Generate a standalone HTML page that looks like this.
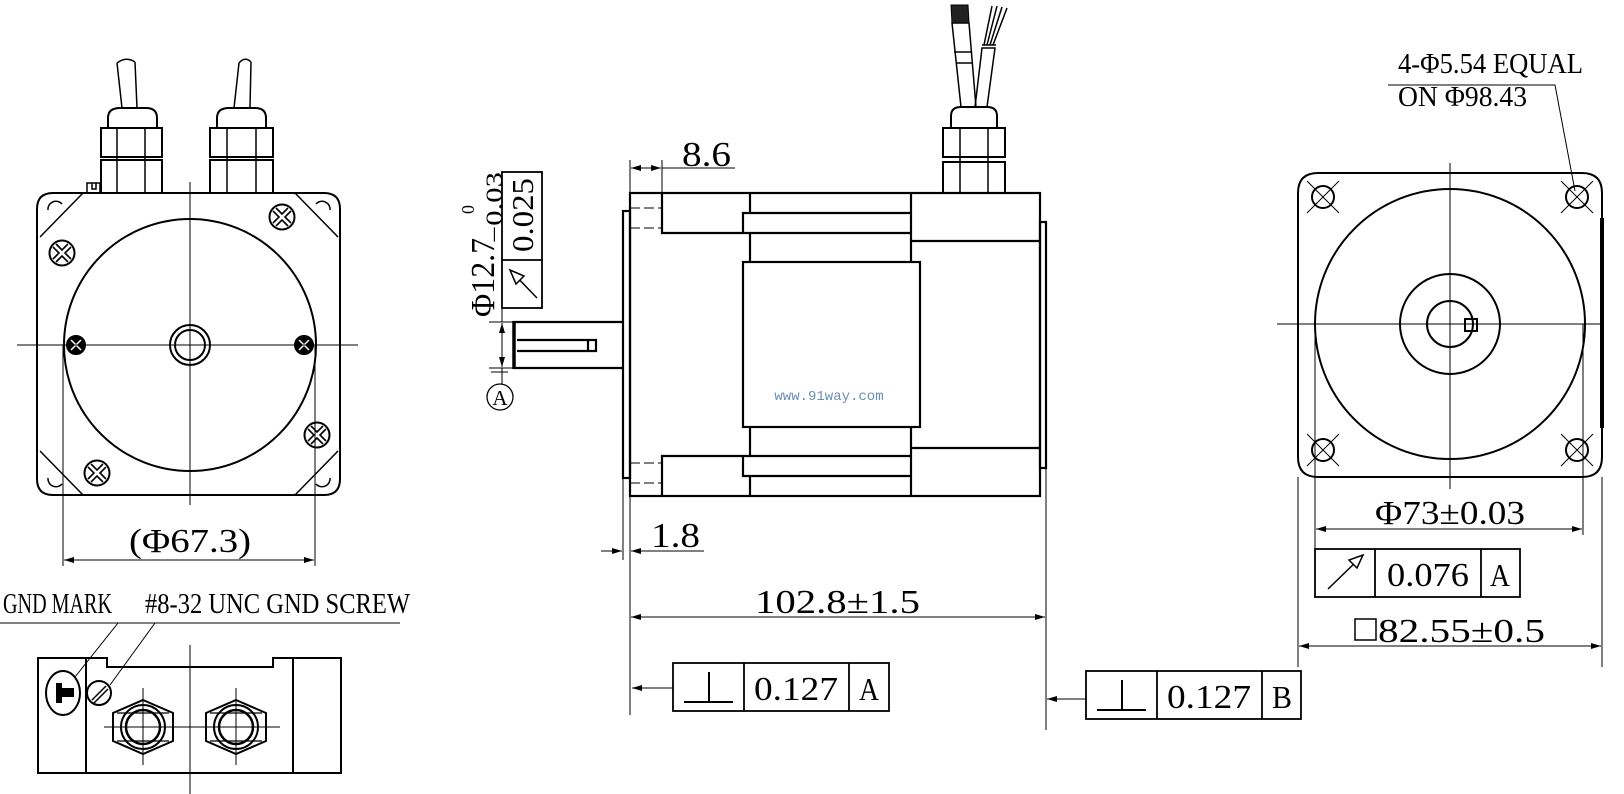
<!DOCTYPE html>
<html><head><meta charset="utf-8"><style>html,body{margin:0;padding:0;background:#fff}svg{display:block}</style></head>
<body>
<svg width="1624" height="794" viewBox="0 0 1624 794" xmlns="http://www.w3.org/2000/svg" font-family="'Liberation Serif', serif" fill="none" stroke="#000">
<defs>
<marker id="ar" viewBox="0 0 10 6" refX="10" refY="3" markerWidth="10" markerHeight="6" markerUnits="userSpaceOnUse" orient="auto-start-reverse"><path d="M0,0 L10,3 L0,6 z" fill="#000" stroke="none"/></marker>
<g id="xs"><circle r="12.5" stroke-width="2"/><path d="M-6,-9 L0,-3 L6,-9 M-6,9 L0,3 L6,9 M-9,-6 L-3,0 L-9,6 M9,-6 L3,0 L9,6" stroke-width="1.6"/></g>
</defs>
<rect x="0" y="0" width="1624" height="794" fill="#fff" stroke="none"/>

<!-- ========== LEFT VIEW ========== -->
<g stroke-width="2">
<path d="M53,193 H324 Q340,193 340,209 V479 Q340,495 324,495 H53 Q37,495 37,479 V209 Q37,193 53,193 Z"/>
<path d="M83,193 L40,237 M295,193 L338,237 M40,451 L83,495 M338,451 L295,495" stroke-width="1.5"/>
<path d="M48,210 A8,8 0 0 1 62,204 M48,478 A8,8 0 0 0 62,484 M330,210 A8,8 0 0 0 316,204 M330,478 A8,8 0 0 1 316,484" stroke-width="1.5"/>
<circle cx="190" cy="345" r="126"/>
<circle cx="190" cy="345" r="20"/>
<circle cx="190" cy="345" r="15"/>
<circle cx="76" cy="345" r="9" fill="#000"/>
<circle cx="304" cy="345" r="9" fill="#000"/>
</g>
<path d="M71,340 L81,350 M81,340 L71,350 M299,340 L309,350 M309,340 L299,350" stroke="#fff" stroke-width="1.5"/>
<use href="#xs" x="62" y="253"/><use href="#xs" x="282" y="217"/><use href="#xs" x="317" y="435"/><use href="#xs" x="97" y="473"/>
<path d="M17,345 H358 M190,182 V505" stroke-width="1"/>
<g stroke-width="2">
<rect x="101" y="160" width="61" height="33"/><rect x="101" y="128" width="61" height="29"/>
<path d="M108,128 V118 Q108,108 120,108 H146 Q157,108 157,118 V128"/>
<path d="M117,128 V193 M145,128 V193" stroke-width="1.5"/>
<path d="M122,108 L117,63 M137,108 L135,62 M117,63 Q126,56 135,62" stroke-width="1.5"/>
<rect x="210" y="160" width="63" height="33"/><rect x="210" y="128" width="63" height="29"/>
<path d="M217,128 V118 Q217,108 229,108 H255 Q266,108 266,118 V128"/>
<path d="M227,128 V193 M256,128 V193" stroke-width="1.5"/>
<path d="M234,108 L239,63 M250,108 L251,62 M239,63 Q245,56 251,62" stroke-width="1.5"/>
<path d="M87,193 V183 H100 V193 M92,183 V189 H96 V183" stroke-width="1.5"/>
</g>
<path d="M63,345 V566 M315,345 V566" stroke-width="1"/>
<line x1="64" y1="560" x2="314" y2="560" stroke-width="1" marker-start="url(#ar)" marker-end="url(#ar)"/>
<text x="190" y="552" font-size="34" text-anchor="middle" fill="#000" stroke="none" textLength="122" lengthAdjust="spacingAndGlyphs">(Φ67.3)</text>

<!-- ========== BOTTOM LEFT VIEW ========== -->
<text x="3" y="613" font-size="29" fill="#000" stroke="none" textLength="109" lengthAdjust="spacingAndGlyphs">GND MARK</text>
<text x="145" y="613" font-size="29" fill="#000" stroke="none" textLength="265" lengthAdjust="spacingAndGlyphs">#8-32 UNC GND SCREW</text>
<path d="M0,623 H400 M118,623 L75,677 M155,623 L110,685" stroke-width="1"/>
<g stroke-width="2">
<path d="M38,658 H107 V667 H273 V658 H341 V773 H38 Z"/>
<path d="M86,658 V773 M293,658 V773"/>
<ellipse cx="63" cy="693" rx="17" ry="22"/>
<circle cx="99" cy="693" r="12"/>
<path d="M92,700 L106,686 M94,703 L108,689" stroke-width="1.5"/>
<path d="M143,700 L173,713 V741 L143,754 L113,741 V713 Z M236,700 L266,713 V741 L236,754 L206,741 V713 Z" />
<path d="M117,713 H169 M117,741 H169 M210,713 H262 M210,741 H262" stroke-width="1.2"/>
<circle cx="143" cy="727" r="22"/><circle cx="143" cy="727" r="17" stroke-width="2.5"/>
<circle cx="236" cy="727" r="22"/><circle cx="236" cy="727" r="17" stroke-width="2.5"/>
</g>
<path d="M56,683 H62 V688 H74 V697 H62 V703 H56 Z" fill="#000" stroke="none"/>
<path d="M190,645 V794 M143,688 V765 M236,688 V765 M104,727 H280" stroke-width="1"/>

<!-- ========== MIDDLE VIEW ========== -->
<g stroke-width="2.2">
<rect x="630" y="193" width="410" height="303"/>
<rect x="623" y="211" width="7" height="267"/>
<rect x="1040" y="222" width="6" height="246"/>
<path d="M662,193 V233 H911 M743,233 V213 H911 M750,193 V213 M750,233 V262 M911,193 V262 M911,241 H1040"/>
<rect x="743" y="262" width="177" height="165"/>
<path d="M662,496 V456 H911 M743,456 V476 H911 M750,496 V476 M750,456 V427 M911,496 V427 M911,448 H1040"/>
<path d="M623,322 H514 V368 H623 M514,322 V368" />
<path d="M517,340 H596 V351 H517 M588,340 V351"/>
</g>
<path d="M514,321 V369" stroke-width="3.5"/>
<path d="M630,208 H662 M630,228 H662 M630,463 H662 M630,483 H662" stroke-width="1" stroke-dasharray="10,4"/>
<text x="829" y="400" font-size="14" text-anchor="middle" fill="#6a8fb5" stroke="none" font-family="'Liberation Mono', monospace">www.91way.com</text>
<g stroke-width="2">
<rect x="943" y="162" width="62" height="31"/><rect x="943" y="128" width="62" height="29"/>
<path d="M951,128 V116 Q951,107 961,107 H987 Q997,107 997,116 V128"/>
<path d="M960,128 V193 M988,128 V193" stroke-width="1.5"/>
<path d="M961,107 L952,23 H969 L976,107 M954,52 H972 M956,63 H973" stroke-width="1.5"/>
<path d="M975,107 L982,48 H995 L987,107 M982,45 H996" stroke-width="1.5"/>
</g>
<path d="M952,23 L951,5 H968 L969,23 Z" fill="#222" stroke="#000" stroke-width="1"/>
<path d="M984,45 L992,6 M987,45 L997,6 M990,45 L1002,7 M993,45 L1007,8" stroke-width="1.5"/>
<path d="M630,193 V160 M662,193 V160 M662,168 H735" stroke-width="1"/>
<line x1="631" y1="168" x2="661" y2="168" stroke-width="1" marker-start="url(#ar)" marker-end="url(#ar)"/>
<text x="682" y="166" font-size="35" fill="#000" stroke="none" textLength="49" lengthAdjust="spacingAndGlyphs">8.6</text>
<rect x="502" y="172" width="40" height="136" stroke-width="1.8"/>
<path d="M502,260 H542" stroke-width="1.8"/>
<line x1="537" y1="298" x2="511" y2="271" stroke-width="1.5"/>
<path d="M510,270 L524,276 L516,284 Z" stroke-width="1.5" fill="#fff"/>
<text transform="translate(533,252) rotate(-90)" font-size="31" fill="#000" stroke="none" textLength="74" lengthAdjust="spacingAndGlyphs">0.025</text>
<text transform="translate(494,317) rotate(-90)" font-size="34" fill="#000" stroke="none" textLength="79" lengthAdjust="spacingAndGlyphs">Φ12.7</text>
<text transform="translate(474,214) rotate(-90)" font-size="18" fill="#000" stroke="none">0</text>
<text transform="translate(502,243) rotate(-90)" font-size="23" fill="#000" stroke="none" textLength="71" lengthAdjust="spacingAndGlyphs">−0.03</text>
<path d="M502,308 V322 M489,322 H514 M489,368 H514 M502,368 V384 M491,372 H508" stroke-width="1"/>
<line x1="502" y1="323" x2="502" y2="367" stroke-width="1" marker-start="url(#ar)" marker-end="url(#ar)"/>
<circle cx="500" cy="397" r="13" stroke-width="1.3"/>
<text x="500" y="405" font-size="21" text-anchor="middle" fill="#000" stroke="none">A</text>
<path d="M623,478 V560 M630,496 V715 M1046,468 V730" stroke-width="1"/>
<line x1="601" y1="551" x2="622" y2="551" stroke-width="1" marker-end="url(#ar)"/>
<line x1="704" y1="551" x2="631" y2="551" stroke-width="1" marker-end="url(#ar)"/>
<text x="651" y="547" font-size="35" fill="#000" stroke="none" textLength="49" lengthAdjust="spacingAndGlyphs">1.8</text>
<line x1="631" y1="617" x2="1045" y2="617" stroke-width="1" marker-start="url(#ar)" marker-end="url(#ar)"/>
<text x="755" y="613" font-size="34" fill="#000" stroke="none" textLength="165" lengthAdjust="spacingAndGlyphs">102.8±1.5</text>
<rect x="673" y="663" width="216" height="48" stroke-width="1.8"/>
<path d="M744,663 V711 M849,663 V711" stroke-width="1.8"/>
<path d="M709,672 V702 M684,702 H733" stroke-width="2"/>
<text x="796" y="700" font-size="34" text-anchor="middle" fill="#000" stroke="none" textLength="84" lengthAdjust="spacingAndGlyphs">0.127</text>
<text x="869" y="700" font-size="32" text-anchor="middle" fill="#000" stroke="none" textLength="20" lengthAdjust="spacingAndGlyphs">A</text>
<line x1="673" y1="688" x2="632" y2="688" stroke-width="1" marker-end="url(#ar)"/>
<rect x="1086" y="671" width="215" height="48" stroke-width="1.8"/>
<path d="M1157,671 V719 M1262,671 V719" stroke-width="1.8"/>
<path d="M1122,680 V710 M1097,710 H1146" stroke-width="2"/>
<text x="1209" y="708" font-size="34" text-anchor="middle" fill="#000" stroke="none" textLength="84" lengthAdjust="spacingAndGlyphs">0.127</text>
<text x="1282" y="708" font-size="32" text-anchor="middle" fill="#000" stroke="none" textLength="20" lengthAdjust="spacingAndGlyphs">B</text>
<line x1="1086" y1="699" x2="1047" y2="699" stroke-width="1" marker-end="url(#ar)"/>

<!-- ========== RIGHT VIEW ========== -->
<g stroke-width="2">
<path d="M1318,173 H1582 Q1602,173 1602,193 V457 Q1602,477 1582,477 H1318 Q1298,477 1298,457 V193 Q1298,173 1318,173 Z"/>
<circle cx="1450" cy="324" r="135"/>
<circle cx="1450" cy="324" r="50"/>
<circle cx="1450" cy="324" r="23"/>
<rect x="1465" y="319" width="12" height="12"/>
<circle cx="1323" cy="197" r="11"/><circle cx="1577" cy="197" r="11"/><circle cx="1323" cy="450" r="11"/><circle cx="1577" cy="450" r="11"/>
</g>
<path d="M1602,218 V428" stroke-width="4"/>
<path d="M1307,181 L1339,213 M1339,181 L1307,213 M1561,181 L1593,213 M1593,181 L1561,213 M1307,434 L1339,466 M1339,434 L1307,466 M1561,434 L1593,466 M1593,434 L1561,466" stroke-width="1"/>
<path d="M1277,324 H1602 M1450,163 V489" stroke-width="1"/>
<text x="1398" y="73" font-size="28" fill="#000" stroke="none" textLength="185" lengthAdjust="spacingAndGlyphs">4-Φ5.54 EQUAL</text>
<text x="1398" y="106" font-size="28" fill="#000" stroke="none" textLength="129" lengthAdjust="spacingAndGlyphs">ON Φ98.43</text>
<path d="M1388,85 H1555 L1575,191" stroke-width="1"/>
<path d="M1315,324 V580 M1583,324 V535" stroke-width="1"/>
<line x1="1316" y1="529" x2="1582" y2="529" stroke-width="1" marker-start="url(#ar)" marker-end="url(#ar)"/>
<text x="1375" y="524" font-size="34" fill="#000" stroke="none" textLength="150" lengthAdjust="spacingAndGlyphs">Φ73±0.03</text>
<rect x="1315" y="549" width="205" height="48" stroke-width="1.8"/>
<path d="M1375,549 V597 M1481,549 V597" stroke-width="1.8"/>
<line x1="1328" y1="589" x2="1360" y2="558" stroke-width="1.5"/>
<path d="M1363,555 L1349,560 L1357,568 Z" stroke-width="1.5" fill="#fff"/>
<text x="1428" y="586" font-size="34" text-anchor="middle" fill="#000" stroke="none" textLength="82" lengthAdjust="spacingAndGlyphs">0.076</text>
<text x="1500" y="586" font-size="32" text-anchor="middle" fill="#000" stroke="none" textLength="20" lengthAdjust="spacingAndGlyphs">A</text>
<path d="M1298,477 V667 M1602,477 V667" stroke-width="1"/>
<line x1="1299" y1="646" x2="1601" y2="646" stroke-width="1" marker-start="url(#ar)" marker-end="url(#ar)"/>
<rect x="1355" y="619" width="21" height="21" stroke-width="1.5"/>
<text x="1378" y="642" font-size="34" fill="#000" stroke="none" textLength="167" lengthAdjust="spacingAndGlyphs">82.55±0.5</text>
</svg>
</body></html>
